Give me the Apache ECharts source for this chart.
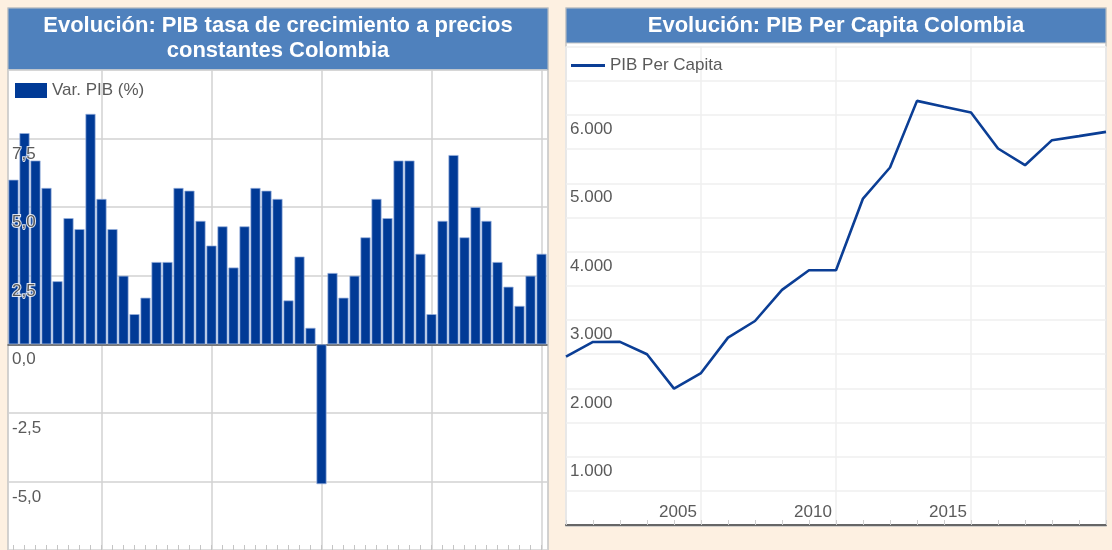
<!DOCTYPE html>
<html>
<head>
<meta charset="utf-8">
<script src="https://cdn.jsdelivr.net/npm/echarts@6/dist/echarts.min.js"></script>
<style>
  html, body { margin: 0; padding: 0; background: #fdf0e1; }
  #chart { width: 1112px; height: 550px; }
</style>
</head>
<body>
<div id="chart"></div>
<script>
// ---- Left chart: GDP growth (%) ----
const growthYears = ['1971','1972','1973','1974','1975','1976','1977','1978','1979',
  '1980','1981','1982','1983','1984','1985','1986','1987','1988','1989',
  '1990','1991','1992','1993','1994','1995','1996','1997','1998','1999',
  '2000','2001','2002','2003','2004','2005','2006','2007','2008','2009',
  '2010','2011','2012','2013','2014','2015','2016','2017','2018','2019'];
const growthValues = [6.0, 7.7, 6.7, 5.7, 2.3, 4.6, 4.2, 8.4, 5.3,
  4.2, 2.5, 1.1, 1.7, 3.0, 3.0, 5.7, 5.6, 4.5, 3.6,
  4.3, 2.8, 4.3, 5.7, 5.6, 5.3, 1.6, 3.2, 0.6, -5.1,
  2.6, 1.7, 2.5, 3.9, 5.3, 4.6, 6.7, 6.7, 3.3, 1.1,
  4.5, 6.9, 3.9, 5.0, 4.5, 3.0, 2.1, 1.4, 2.5, 3.3];
const growthName = 'Var. PIB (%)';
const growthTitle1 = 'Evolución: PIB tasa de crecimiento a precios';
const growthTitle2 = 'constantes Colombia';

// ---- Right chart: GDP per capita ----
const pcYears = [2001, 2002, 2003, 2004, 2005, 2006, 2007, 2008, 2009, 2010,
  2011, 2012, 2013, 2014, 2015, 2016, 2017, 2018, 2019, 2020, 2021];
const pcValues = [2463, 2678, 2680, 2498, 1996, 2224, 2742, 2985, 3440, 3727,
  3727, 4777, 5231, 6206, 6120, 6036, 5509, 5265, 5631, 5690, 5752];
const pcLabelYears = [2005, 2010, 2015];
const pcName = 'PIB Per Capita';
const pcTitle = 'Evolución: PIB Per Capita Colombia';

const FONT = "'Liberation Sans', Arial, sans-serif";
const BLUE = '#003a96';
const HEADER = '#4f81bd';
const LABEL = '#5a5a5a';

const chart = echarts.init(document.getElementById('chart'), null, { renderer: 'canvas' });

const option = {
  animation: false,
  backgroundColor: '#fdf0e1',
  textStyle: { fontFamily: FONT },
  graphic: [
    { type: 'rect', z: -10, shape: { x: 8, y: 8, width: 540, height: 560 },
      style: { fill: '#ffffff', stroke: '#c4c4c4', lineWidth: 1.5 } },
    { type: 'rect', z: -9, shape: { x: 8, y: 8, width: 540, height: 62 },
      style: { fill: HEADER, stroke: '#c4c4c4', lineWidth: 1 } },
    { type: 'rect', z: -10, shape: { x: 566, y: 8, width: 540, height: 518 },
      style: { fill: '#ffffff', stroke: '#c4c4c4', lineWidth: 1.5 } },
    { type: 'rect', z: -9, shape: { x: 566, y: 8, width: 540, height: 35 },
      style: { fill: HEADER, stroke: '#c4c4c4', lineWidth: 1 } },
    { type: 'text', z: 10, style: { text: growthTitle1, x: 278, y: 26, textAlign: 'center', textVerticalAlign: 'middle',
      fill: '#ffffff', font: "bold 22px 'Liberation Sans', Arial, sans-serif" } },
    { type: 'text', z: 10, style: { text: growthTitle2, x: 278, y: 51, textAlign: 'center', textVerticalAlign: 'middle',
      fill: '#ffffff', font: "bold 22px 'Liberation Sans', Arial, sans-serif" } },
    { type: 'text', z: 10, style: { text: pcTitle, x: 836, y: 26, textAlign: 'center', textVerticalAlign: 'middle',
      fill: '#ffffff', font: "bold 22px 'Liberation Sans', Arial, sans-serif" } }
  ],
  legend: [
    { left: 10, top: 77, icon: 'rect', itemWidth: 32, itemHeight: 15,
      itemStyle: { borderWidth: 0 },
      data: [growthName], textStyle: { fontSize: 17, color: LABEL, fontFamily: FONT } },
    { left: 566, top: 52, icon: 'rect', itemWidth: 34, itemHeight: 3,
      itemStyle: { borderWidth: 0 },
      data: [pcName], textStyle: { fontSize: 17, color: LABEL, fontFamily: FONT } }
  ],
  grid: [
    { left: 8, right: 565, top: 70, bottom: 0, outerBoundsMode: 'none', containLabel: false },
    { left: 566, right: 6, top: 46.6, bottom: 25, outerBoundsMode: 'none', containLabel: false }
  ],
  xAxis: [
    { // 0: left, bars, zero line + decade split lines
      type: 'category', gridIndex: 0, data: growthYears, boundaryGap: true,
      axisLine: { onZero: true, lineStyle: { color: '#555', width: 1.5 } },
      axisTick: { show: false }, axisLabel: { show: false },
      splitLine: { show: true, alignWithLabel: true,
        interval: function (idx, val) { return Number(val) % 10 === 9; },
        lineStyle: { color: '#d2d2d2', width: 1.5 } }
    },
    { // 1: left, bottom yearly ticks
      type: 'category', gridIndex: 0, data: growthYears, boundaryGap: true, position: 'bottom',
      axisLine: { show: false, onZero: false },
      axisTick: { show: true, inside: true, alignWithLabel: true, interval: 0, length: 5,
        lineStyle: { color: '#c4c4c4', width: 1 } },
      axisLabel: { show: false }, splitLine: { show: false }
    },
    { // 2: right, series axis, yearly ticks + labels
      type: 'value', gridIndex: 1, min: 2001, max: 2021, interval: 1, position: 'bottom',
      axisLine: { show: true, onZero: false, lineStyle: { color: '#666', width: 2 } },
      axisTick: { show: true, inside: true, length: 5, lineStyle: { color: '#d0d0d0' } },
      axisLabel: { inside: true, margin: 4, fontSize: 17, color: LABEL, fontFamily: FONT,
        padding: [0, 0, 0, 8],
        formatter: function (v) { return pcLabelYears.indexOf(v) >= 0 ? String(v) : ''; } },
      splitLine: { show: false }
    },
    { // 3: right, 5-year split lines
      type: 'value', gridIndex: 1, min: 2001, max: 2021, interval: 5, position: 'bottom',
      axisLine: { show: false, onZero: false }, axisTick: { show: false }, axisLabel: { show: false },
      splitLine: { show: true, lineStyle: { color: '#efefef', width: 1.5 } }
    }
  ],
  yAxis: [
    { // 0: left, series axis with grid lines
      type: 'value', gridIndex: 0, min: -7.5, max: 10, interval: 2.5,
      axisLine: { show: false }, axisTick: { show: false }, axisLabel: { show: false },
      splitLine: { show: true, lineStyle: { color: '#d2d2d2', width: 1.5 } }
    },
    { // 1: left, labels drawn on top of bars
      type: 'value', gridIndex: 0, min: -7.5, max: 10, interval: 2.5, position: 'left', z: 5,
      axisLine: { show: false }, axisTick: { show: false }, splitLine: { show: false },
      axisLabel: { inside: true, margin: 4, verticalAlign: 'top', padding: [7, 0, 0, 0],
        fontSize: 17, color: LABEL, fontFamily: FONT,
        textBorderColor: 'rgba(255,255,255,0.85)', textBorderWidth: 2,
        formatter: function (v) { return (v >= 10 || v <= -7.5) ? '' : v.toFixed(1).replace('.', ','); } }
    },
    { // 2: right
      type: 'value', gridIndex: 1, min: 0, max: 7000, interval: 500,
      axisLine: { show: false }, axisTick: { show: false },
      axisLabel: { inside: true, margin: 4, verticalAlign: 'top', padding: [6, 0, 0, 0],
        fontSize: 17, color: LABEL, fontFamily: FONT,
        formatter: function (v) { return (v % 1000 === 0 && v > 0 && v < 7000) ? (v / 1000) + '.000' : ''; } },
      splitLine: { show: true, lineStyle: { color: '#efefef', width: 1.5 } }
    }
  ],
  series: [
    {
      name: growthName, type: 'bar', xAxisIndex: 0, yAxisIndex: 0,
      data: growthValues, barCategoryGap: '8%',
      itemStyle: { color: BLUE, borderColor: 'rgba(150,175,220,0.9)', borderWidth: 0.8 }
    },
    {
      name: pcName, type: 'line', xAxisIndex: 2, yAxisIndex: 2,
      data: pcYears.map(function (y, i) { return [y, pcValues[i]]; }),
      showSymbol: false, symbol: 'none',
      lineStyle: { color: '#0b3e95', width: 2.6 }, itemStyle: { color: '#0b3e95' }
    }
  ]
};
chart.setOption(option);
</script>
</body>
</html>
